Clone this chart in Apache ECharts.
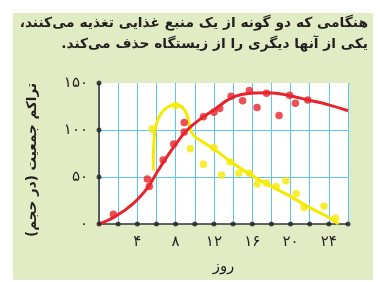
<!DOCTYPE html>
<html>
<head>
<meta charset="utf-8">
<script src="https://cdn.jsdelivr.net/npm/echarts@6/dist/echarts.min.js"></script>
<style>
  html, body { margin: 0; padding: 0; background: #fff; }
  .panel { position: absolute; left: 13px; top: 13px; width: 360px; height: 267px; background: #e2ecc4; }
  #chart { position: absolute; left: 0; top: 0; width: 382px; height: 282px; }
</style>
</head>
<body>
<div class="panel"></div>
<div id="chart" dir="rtl"></div>
<script>
// red species: fitted curve and measured points [day, density]
var redCurve = [[0, 0], [1.7, 8], [3.6, 22], [5.1, 39], [6, 54], [7, 70], [8.1, 86], [9.1, 99],
  [10.5, 111], [12.1, 122], [13.8, 134], [15.9, 139], [17.7, 139.5], [19.7, 137],
  [21.8, 132], [23.9, 127], [26, 120.5]];
var redPoints = [[1.5, 10.5], [5.05, 48], [5.25, 40], [6.7, 68], [7.8, 85], [8.9, 108], [8.9, 98],
  [10.9, 114], [12.0, 119], [12.6, 123], [13.8, 136], [15.0, 131], [15.7, 142], [16.5, 124],
  [17.5, 139], [18.8, 115.5], [19.9, 137], [20.5, 128.5], [21.8, 132]];

// yellow species
var yellowCurve = [[5.66, 57], [5.72, 85], [5.95, 105], [6.5, 118], [7.2, 124.5], [8, 127],
  [8.8, 123], [9.25, 114], [9.5, 102], [9.9, 94], [10.5, 89.5], [12.1, 79], [13.8, 66],
  [15.9, 52], [17.7, 41.6], [19.7, 31], [21.8, 18.5], [23.9, 7.5], [25, 0]];
var yellowPoints = [[5.55, 101], [8.0, 126], [9.55, 80], [10.9, 63.5], [12.0, 81], [12.8, 52],
  [13.7, 66], [14.6, 54], [15.7, 54], [16.5, 42.5], [17.5, 43.5], [18.5, 40], [19.5, 46],
  [20.6, 32.5], [21.4, 17.5], [23.5, 19], [24.7, 6]];

var xLabelDays = [4, 8, 12, 16, 20, 24];
var yLabelValues = [0, 50, 100, 150];

var titleText = 'هنگامی که دو گونه از یک منبع غذایی تغذیه می‌کنند،\nیکی از آنها دیگری را از زیستگاه حذف می‌کند.';
var xName = 'روز';
var yName = 'تراکم جمعیت (در حجم)';

var RED = '#e8232b', YELLOW = '#f8e900', BLUE = '#5cc8f0', INK = '#231f20';
var FONT = 'DejaVu Sans';

function fa(n) {
  return String(n).replace(/\d/g, function (d) { return '۰۱۲۳۴۵۶۷۸۹'[d]; });
}

// small black dots on the axes at every tick
var tickDots = [];
for (var d = 0; d <= 26; d += 2) tickDots.push([d, 0]);
for (var v = 50; v <= 150; v += 50) tickDots.push([0, v]);

var chart = echarts.init(document.getElementById('chart'));
chart.setOption({
  backgroundColor: 'transparent',
  animation: false,
  graphic: [{
    type: 'text',
    right: 14,
    top: 13,
    style: {
      text: titleText,
      font: 'bold 13.8px "' + FONT + '"',
      fill: INK,
      textAlign: 'right',
      lineHeight: 21
    }
  }, {
    // y axis title, rotated, sitting a bit below the axis middle as in the original
    type: 'text',
    x: 32,
    y: 160,
    rotation: Math.PI / 2,
    style: {
      text: yName,
      font: 'bold 13.5px "' + FONT + '"',
      fill: INK,
      textAlign: 'center',
      textVerticalAlign: 'middle'
    }
  }],
  grid: {
    left: 99, right: 34, top: 83, bottom: 58,
    show: true, backgroundColor: '#ffffff', borderWidth: 0
  },
  xAxis: {
    type: 'value', min: 0, max: 26, interval: 2,
    name: xName, nameLocation: 'middle', nameGap: 36,
    nameTextStyle: { fontFamily: FONT, fontSize: 15, color: INK },
    axisLine: { lineStyle: { color: '#333', width: 1.5 } },
    axisTick: { show: false },
    splitLine: { show: true, lineStyle: { color: BLUE, width: 1 } },
    axisLabel: {
      margin: 11, fontFamily: FONT, fontSize: 15, color: INK,
      formatter: function (val) { return xLabelDays.indexOf(val) >= 0 ? fa(val) : ''; }
    }
  },
  yAxis: {
    type: 'value', min: 0, max: 150, interval: 50,
    axisLine: { show: true, lineStyle: { color: '#333', width: 1.5 } },
    axisTick: { show: false },
    splitLine: { show: true, lineStyle: { color: ['transparent', BLUE, BLUE, 'transparent'], width: 1 } },
    axisLabel: {
      margin: 11, fontFamily: FONT, fontSize: 15, color: INK,
      formatter: function (val) { return yLabelValues.indexOf(val) >= 0 ? fa(val) : ''; }
    }
  },
  series: [
    {
      type: 'line', data: yellowCurve, smooth: 0.35, showSymbol: false, z: 2,
      lineStyle: { color: YELLOW, width: 3 }
    },
    {
      type: 'scatter', data: yellowPoints, symbolSize: 7.5, z: 3,
      itemStyle: { color: YELLOW }
    },
    {
      type: 'line', data: redCurve, smooth: 0.4, showSymbol: false, z: 4,
      lineStyle: { color: RED, width: 3 }
    },
    {
      type: 'scatter', data: redPoints, symbolSize: 7.5, z: 5,
      itemStyle: { color: RED }
    },
    {
      type: 'scatter', data: tickDots, symbolSize: 5, z: 6, clip: false, silent: true,
      itemStyle: { color: '#222' }
    }
  ]
});
</script>
</body>
</html>
